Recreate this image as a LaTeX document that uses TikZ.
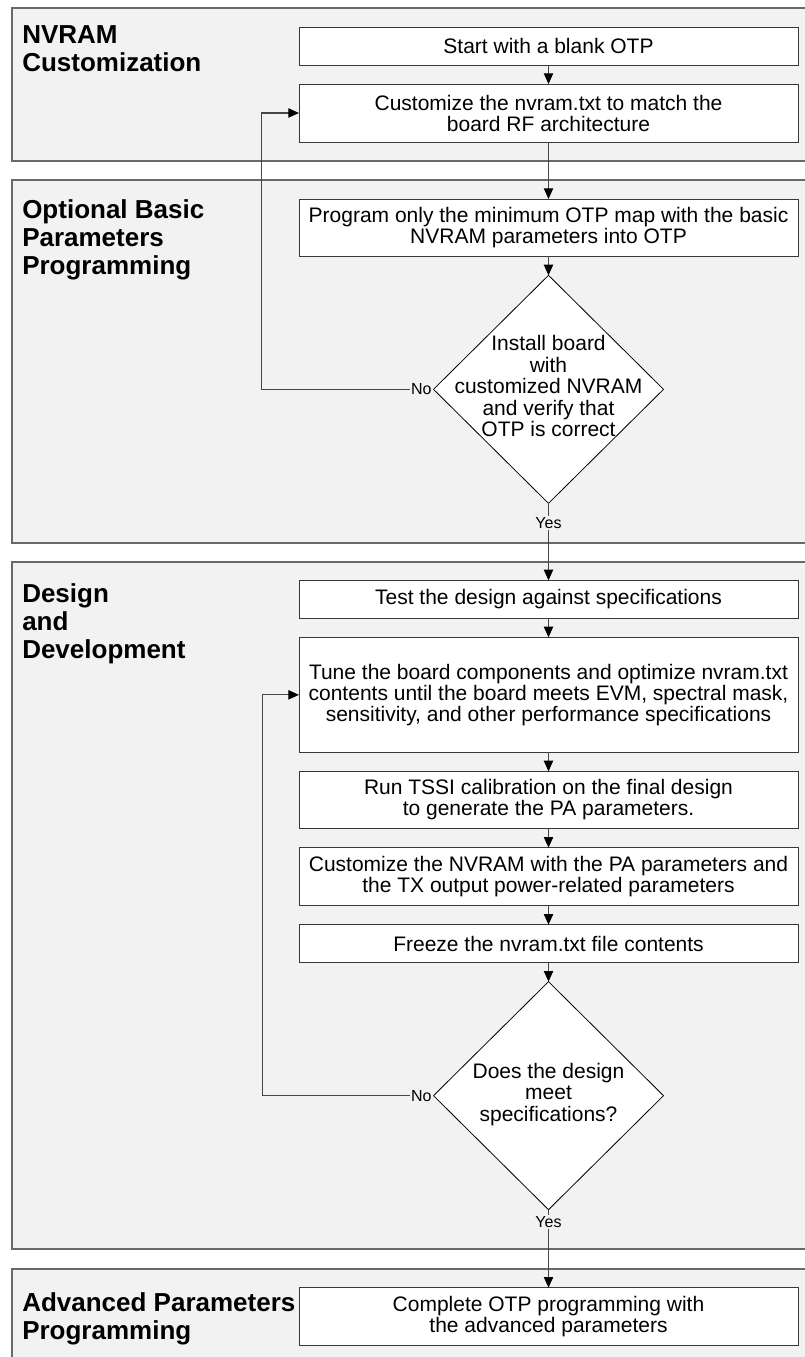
\documentclass[tikz,border=0pt]{standalone}
\usepackage{fontspec}
\setmainfont{Liberation Sans}
\usepackage{tikz}
\usetikzlibrary{shapes.geometric, arrows.meta, positioning}
\definecolor{lanefill}{RGB}{242,242,242}
\definecolor{laneline}{RGB}{105,105,105}
\definecolor{boxline}{RGB}{55,55,55}
\definecolor{wireline}{RGB}{70,70,70}
\newcommand{\dtxt}[1]{\makebox[0pt]{\begin{tabular}{@{}c@{}}#1\end{tabular}}}
\tikzset{
  lane/.style={fill=lanefill, draw=laneline, line width=1.2pt},
  ttl/.style={anchor=north west, inner sep=0pt, align=left,
    font={\fontsize{19.5}{21}\selectfont\bfseries}},
  box/.style={
    rectangle, draw=boxline, fill=white, line width=0.75pt,
    minimum width=374.25pt, inner sep=2pt, outer sep=0pt, align=center,
    font={\fontsize{15.75}{15.75}\selectfont}
  },
  box1/.style={box, minimum height=28.5pt},
  box2/.style={box, minimum height=43pt},
  dec/.style={
    diamond, draw=black, fill=white, line width=0.6pt,
    minimum width=172.5pt, minimum height=171pt, inner sep=0pt, outer sep=0pt,
    font={\fontsize{15.75}{15.75}\selectfont}
  },
  arr/.style={-{Triangle[length=8pt, width=7pt, fill=black, color=black]},
    draw=wireline, line width=0.8pt},
  lbl/.style={fill=lanefill, inner sep=1pt, font={\fontsize{12}{12}\selectfont}}
}

\begin{document}
\begin{tikzpicture}[x=0.75pt, y=-0.75pt, node distance=14.25pt]
  \useasboundingbox (0,0) rectangle (804,1357);

  %% ── lanes ────────────────────────────────────────
  \draw[lane] (12,8)    rectangle (812,161);
  \draw[lane] (12,180)  rectangle (812,543);
  \draw[lane] (12,562)  rectangle (812,1249);
  \draw[lane] (12,1269) rectangle (812,1372);

  \node[ttl] (t1) at (22,25)   {NVRAM\\Customization};
  \node[ttl] (t2) at (22,199)  {Optional Basic\\Parameters\\Programming};
  \node[ttl] (t3) at (22,583)  {Design\\and\\Development};
  \node[ttl] (t4) at (22,1292) {Advanced Parameters\\Programming};

  %% ── steps ────────────────────────────────────────
  \node[box1] (start) at (548.5,46) {Start with a blank OTP};
  \node[box2, minimum height=43.5pt, below=of start] (cust)
       {Customize the nvram.txt to match the\\board RF architecture};
  \node[box2, below=42.75pt of cust] (prog)
       {Program only the minimum OTP map with the basic\\NVRAM parameters into OTP};
  \node[dec, below=of prog] (d1)
       {\dtxt{Install board\\with\\customized NVRAM\\and verify that\\OTP is correct}};

  \node[box1, below=57.75pt of d1] (test) {Test the design against specifications};
  \node[box, minimum height=86.25pt, below=of test] (tune)
       {Tune the board components and optimize nvram.txt\\contents until the board meets EVM, spectral mask,\\sensitivity, and other performance specifications};
  \node[box2, below=of tune] (tssi)
       {Run TSSI calibration on the final design\\to generate the PA parameters.};
  \node[box2, minimum height=43.5pt, below=of tssi] (pa)
       {Customize the NVRAM with the PA parameters and\\the TX output power-related parameters};
  \node[box1, below=of pa] (frz) {Freeze the nvram.txt file contents};
  \node[dec, below=of frz] (d2)
       {\dtxt{Does the design\\meet\\specifications?}};

  \node[box2, below=58.5pt of d2] (fin)
       {Complete OTP programming with\\the advanced parameters};

  %% ── connectors ───────────────────────────────────
  \foreach \a/\b in {start/cust, cust/prog, prog/d1, test/tune,
                     tune/tssi, tssi/pa, pa/frz, frz/d2}
    \draw[arr] (\a) -- (\b);

  \draw[arr] (d1) -- node[lbl, pos=0.26] {Yes} (test);
  \draw[arr] (d2) -- node[lbl, pos=0.16] {Yes} (fin);

  %% back loops
  \draw[arr] (d1.west) node[lbl, anchor=east] {No} -- ++(-172,0) |- (cust.west);
  \draw[arr] (d2.west) node[lbl, anchor=east] {No} -- ++(-171,0) |- (tune.west);

\end{tikzpicture}
\end{document}
